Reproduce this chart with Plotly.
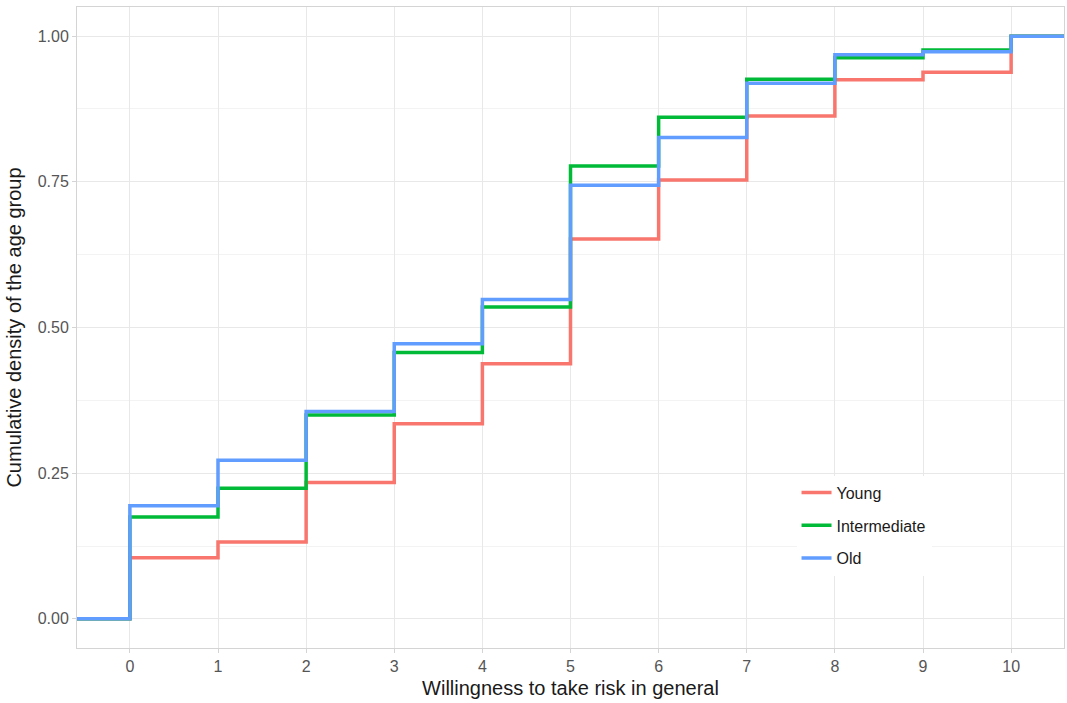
import plotly.graph_objects as go

# Data (ECDF values at each risk level)
risk_levels = [0, 1, 2, 3, 4, 5, 6, 7, 8, 9, 10]
young = [0.105, 0.132, 0.234, 0.335, 0.438, 0.652, 0.753, 0.863, 0.925, 0.938, 1.0]
intermediate = [0.175, 0.224, 0.350, 0.457, 0.535, 0.777, 0.861, 0.926, 0.963, 0.976, 1.0]
old = [0.194, 0.272, 0.356, 0.472, 0.548, 0.744, 0.826, 0.919, 0.968, 0.973, 1.0]
group_names = ["Young", "Intermediate", "Old"]
group_colors = ["#F8766D", "#00BA38", "#619CFF"]
y_ticks = [0.0, 0.25, 0.5, 0.75, 1.0]
y_ticklabels = ["0.00", "0.25", "0.50", "0.75", "1.00"]

x_range = [-0.6, 10.6]
y_range = [-0.05, 1.05]

fig = go.Figure()
for i, (name, vals, col) in enumerate(zip(group_names, [young, intermediate, old], group_colors)):
    # ECDF padded to -Inf / +Inf (the panel edges)
    xs = [x_range[0]] + risk_levels + [x_range[1]]
    ys = [0.0] + vals + [vals[-1]]
    fig.add_trace(go.Scatter(
        x=xs, y=ys, mode="lines", name=name,
        line=dict(color=col, width=3.5, shape="hv"),
        legendgroup=f"g{i}",
    ))

font_family = "Liberation Sans, Arial, sans-serif"
grid_major = "#e8e8e8"
grid_minor = "#f3f3f3"
border = "#d4d4d4"

fig.update_layout(
    width=1067, height=703,
    margin=dict(l=77, r=3, t=7, b=55),
    paper_bgcolor="white", plot_bgcolor="white",
    font=dict(family=font_family, size=16, color="#4d4d4d"),
    showlegend=True,
    legend=dict(
        x=0.729, y=0.269, xanchor="left", yanchor="top",
        bgcolor="white", borderwidth=0,
        font=dict(family=font_family, size=16, color="#1a1a1a"),
        tracegroupgap=9, traceorder="grouped",
    ),
    xaxis=dict(
        range=x_range, tickmode="array", tickvals=risk_levels,
        ticktext=[str(v) for v in risk_levels],
        showgrid=True, gridcolor=grid_major, gridwidth=1,
        zeroline=False, showline=True, linecolor=border, linewidth=1, mirror=True,
        ticks="outside", ticklen=4, tickcolor=border,
        tickfont=dict(size=16, color="#555555"),
        title=dict(text="Willingness to take risk in general",
                   font=dict(size=20, color="#1a1a1a"), standoff=6),
    ),
    yaxis=dict(
        range=y_range, tickmode="array", tickvals=y_ticks, ticktext=y_ticklabels,
        showgrid=True, gridcolor=grid_major, gridwidth=1,
        minor=dict(dtick=0.125, tick0=0, showgrid=True, gridcolor=grid_minor, gridwidth=1),
        zeroline=False, showline=True, linecolor=border, linewidth=1, mirror=True,
        ticks="outside", ticklen=4, tickcolor=border,
        tickfont=dict(size=16, color="#555555"),
        title=dict(text="Cumulative density of the age group",
                   font=dict(size=20, color="#1a1a1a"), standoff=10),
    ),
)

fig.write_html("out.html")
